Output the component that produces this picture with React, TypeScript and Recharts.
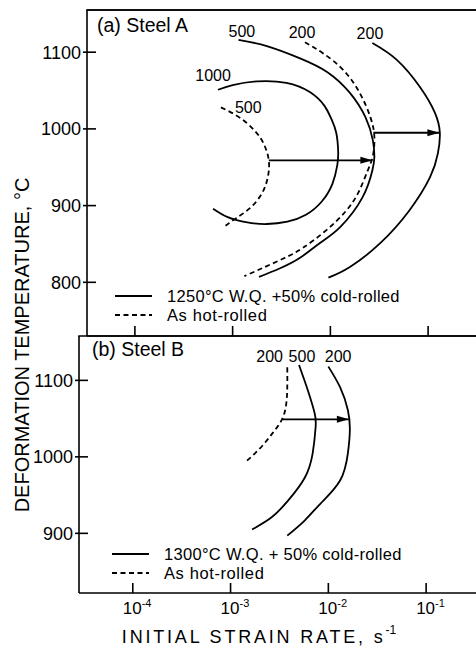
import React from 'react';
import { ComposedChart, Line, XAxis, YAxis, Scatter } from 'recharts';

// ---------- axis ticks ----------
const xTicks = [-4, -3, -2, -1];
const xTickExp = ['-4', '-3', '-2', '-1'];
const yTicksA = [800, 900, 1000, 1100];
const yTicksB = [900, 1000, 1100];

// ---------- Steel A (log10 strain rate, temperature °C) ----------
const aSolid1000: [number, number][] = [
  [-3.20, 896], [-3.05, 885], [-2.85, 878], [-2.65, 876], [-2.44, 879], [-2.25, 888],
  [-2.09, 905], [-1.98, 928], [-1.93, 952], [-1.92, 970], [-1.94, 995], [-1.99, 1013],
  [-2.06, 1030], [-2.21, 1048], [-2.45, 1060], [-2.75, 1062], [-3.00, 1057], [-3.15, 1051],
];
const aDashed500: [number, number][] = [
  [-3.12, 1028], [-2.93, 1015], [-2.77, 997], [-2.68, 980], [-2.63, 959], [-2.64, 937],
  [-2.70, 916], [-2.82, 897], [-2.96, 884], [-3.08, 873],
];
const aSolid500: [number, number][] = [
  [-2.94, 1116], [-2.65, 1108], [-2.31, 1092], [-2.03, 1074], [-1.80, 1047], [-1.64, 1015],
  [-1.565, 985], [-1.55, 963], [-1.57, 946], [-1.67, 911], [-1.90, 872], [-2.11, 851],
  [-2.31, 832], [-2.52, 818], [-2.73, 807],
];
const aDashed200: [number, number][] = [
  [-2.26, 1113], [-2.08, 1099], [-1.87, 1077], [-1.70, 1047], [-1.59, 1015], [-1.55, 990],
  [-1.565, 965], [-1.62, 945], [-1.71, 918], [-1.84, 893], [-2.05, 867], [-2.28, 845],
  [-2.48, 831], [-2.88, 808],
];
const aSolid200: [number, number][] = [
  [-1.57, 1112], [-1.32, 1090], [-1.08, 1054], [-0.93, 1021], [-0.88, 995], [-0.90, 968],
  [-0.98, 937], [-1.19, 894], [-1.49, 851], [-1.80, 820], [-2.02, 806],
];
const aArrow1: [number, number][] = [[-2.63, 959], [-1.57, 959]];
const aArrow2: [number, number][] = [[-1.56, 995], [-0.885, 995]];
const aCurveLabels: [number, number, string][] = [
  [-2.905, 1127, '500'], [-2.29, 1126, '200'], [-1.595, 1125, '200'],
  [-3.20, 1069, '1000'], [-2.84, 1028, '500'],
];
const aDomainX: [number, number] = [-4.49, -0.51];
const aDomainT: [number, number] = [730, 1155];

// ---------- Steel B ----------
const bDashed200: [number, number][] = [
  [-2.42, 1117], [-2.42, 1091], [-2.43, 1070], [-2.47, 1050], [-2.57, 1031], [-2.70, 1011], [-2.85, 993],
];
const bSolid500: [number, number][] = [
  [-2.30, 1120], [-2.21, 1087], [-2.14, 1057], [-2.13, 1039], [-2.16, 1005], [-2.24, 973],
  [-2.41, 943], [-2.58, 921], [-2.78, 905],
];
const bSolid200: [number, number][] = [
  [-2.00, 1118], [-1.88, 1091], [-1.80, 1061], [-1.78, 1035], [-1.80, 1005], [-1.88, 969],
  [-2.08, 939], [-2.24, 917], [-2.42, 897],
];
const bArrow: [number, number][] = [[-2.47, 1049], [-1.79, 1049]];
const bCurveLabels: [number, number, string][] = [
  [-2.60, 1131, '200'], [-2.27, 1131, '500'], [-1.90, 1131, '200'],
];
const bDomainX: [number, number] = [-4.55, -0.49];
const bDomainT: [number, number] = [822, 1158];

// ---------- texts ----------
const titleA = '(a) Steel A';
const titleB = '(b) Steel B';
const legendA = ['1250°C W.Q. +50% cold-rolled', 'As hot-rolled'];
const legendB = ['1300°C W.Q. + 50% cold-rolled', 'As hot-rolled'];
const yTitle = 'DEFORMATION TEMPERATURE, °C';
const xTitle = 'INITIAL STRAIN RATE, s';

// ---------- layout ----------
const W = 476;
const A_LEFT = 87;
const A_TOP = 10;
const A_BOTTOM = 336;
const B_LEFT = 79;

const FONT = '"Liberation Sans", Arial, Helvetica, sans-serif';
const toPts = (a: [number, number][]) => a.map(([x, t]) => ({ x, t }));
const toLabels = (a: [number, number, string][]) => a.map(([x, t, s]) => ({ x, t, s }));
const scaleA = (v: number) => A_LEFT + ((v - aDomainX[0]) / (aDomainX[1] - aDomainX[0])) * (W - A_LEFT);

const YTick = (props: any) => {
  const { x, y, payload } = props;
  return (
    <g>
      <line x1={x - 4} x2={x + 9} y1={y} y2={y} stroke="#000" strokeWidth={1.6} />
      <text x={x - 6} y={y} dy={6.5} textAnchor="end" fontSize={18} fontFamily={FONT} fill="#000">
        {payload.value}
      </text>
    </g>
  );
};

const XLabelTick = (props: any) => {
  const { x, y, payload, index } = props;
  const exp = xTickExp[index] ?? String(payload.value);
  return (
    <g>
      <line x1={x} x2={x} y1={y} y2={y - 10} stroke="#000" strokeWidth={1.6} />
      <text x={x - 10} y={y + 21} fontSize={17} fontFamily={FONT} fill="#000">
        10
        <tspan fontSize={11} dy={-7}>{exp}</tspan>
      </text>
    </g>
  );
};

const arrowDot = (props: any) => {
  const { cx, cy, index } = props;
  if (index !== 1) return <g key={`a${index}`} />;
  return (
    <path
      key={`a${index}`}
      d={`M${cx},${cy} L${cx - 12},${cy - 3.5} L${cx - 12},${cy + 3.5} Z`}
      fill="#000"
    />
  );
};

const LabelShape = (p: any) => (
  <text
    x={p.cx}
    y={p.cy}
    textAnchor="middle"
    dominantBaseline="central"
    fontSize={16}
    fontFamily={FONT}
    fill="#000"
  >
    {p.payload?.s}
  </text>
);

const curve = (key: string, pts: [number, number][], dashed: boolean) => (
  <Line
    key={key}
    data={toPts(pts)}
    dataKey="t"
    type="natural"
    stroke="#000"
    strokeWidth={1.8}
    strokeDasharray={dashed ? '5 3.5' : undefined}
    dot={false}
    activeDot={false}
    isAnimationActive={false}
    legendType="none"
  />
);

const arrow = (key: string, pts: [number, number][]) => (
  <Line
    key={key}
    data={toPts(pts)}
    dataKey="t"
    type="linear"
    stroke="#000"
    strokeWidth={1.8}
    dot={arrowDot}
    activeDot={false}
    isAnimationActive={false}
    legendType="none"
  />
);

const LegendBlock = ({ x, y, lines }: { x: number; y: number; lines: string[] }) => (
  <g>
    <line x1={x} x2={x + 37} y1={y} y2={y} stroke="#000" strokeWidth={1.8} />
    <text x={x + 52} y={y} dominantBaseline="central" fontSize={16.5} fontFamily={FONT} fill="#000" letterSpacing={0.3}>
      {lines[0]}
    </text>
    <line x1={x} x2={x + 37} y1={y + 19} y2={y + 19} stroke="#000" strokeWidth={1.8} strokeDasharray="5 3.5" />
    <text x={x + 52} y={y + 19} dominantBaseline="central" fontSize={16.5} fontFamily={FONT} fill="#000" letterSpacing={0.6}>
      {lines[1]}
    </text>
  </g>
);

export default function App() {
  return (
    <div style={{ position: 'absolute', left: 0, top: 0, width: W, height: 651, background: '#fff' }}>
      <div style={{ position: 'absolute', left: 0, top: 0 }}>
        <ComposedChart width={W} height={356} margin={{ top: 0, right: 0, bottom: 0, left: 0 }}>
          <XAxis
            dataKey="x"
            type="number"
            domain={aDomainX}
            ticks={xTicks}
            interval={0}
            allowDataOverflow
            height={20}
            tick={false}
            tickLine={false}
            axisLine={{ stroke: '#000', strokeWidth: 1.6 }}
          />
          <XAxis
            xAxisId="top"
            orientation="top"
            dataKey="x"
            type="number"
            domain={aDomainX}
            allowDataOverflow
            height={A_TOP}
            tick={false}
            tickLine={false}
            axisLine={{ stroke: '#000', strokeWidth: 1.6 }}
          />
          <YAxis
            type="number"
            domain={aDomainT}
            ticks={yTicksA}
            interval={0}
            allowDataOverflow
            width={A_LEFT}
            tickSize={0}
            tickMargin={0}
            tickLine={false}
            tick={(p: any) => <YTick {...p} />}
            axisLine={{ stroke: '#000', strokeWidth: 1.6 }}
          />
          {curve('a1', aSolid1000, false)}
          {curve('a2', aDashed500, true)}
          {curve('a3', aSolid500, false)}
          {curve('a4', aDashed200, true)}
          {curve('a5', aSolid200, false)}
          {arrow('ar1', aArrow1)}
          {arrow('ar2', aArrow2)}
          <Scatter data={toLabels(aCurveLabels)} dataKey="t" shape={LabelShape} isAnimationActive={false} legendType="none" />
        </ComposedChart>
      </div>
      <div style={{ position: 'absolute', left: 0, top: 330 }}>
        <ComposedChart width={W} height={321} margin={{ top: 6, right: 0, bottom: 0, left: 0 }}>
          <XAxis
            dataKey="x"
            type="number"
            domain={bDomainX}
            ticks={xTicks}
            interval={0}
            allowDataOverflow
            height={58}
            tickSize={0}
            tickMargin={0}
            tickLine={false}
            tick={(p: any) => <XLabelTick {...p} />}
            axisLine={{ stroke: '#000', strokeWidth: 1.6 }}
          />
          <YAxis
            type="number"
            domain={bDomainT}
            ticks={yTicksB}
            interval={0}
            allowDataOverflow
            width={B_LEFT}
            tickSize={0}
            tickMargin={0}
            tickLine={false}
            tick={(p: any) => <YTick {...p} />}
            axisLine={{ stroke: '#000', strokeWidth: 1.6 }}
          />
          {curve('b1', bDashed200, true)}
          {curve('b2', bSolid500, false)}
          {curve('b3', bSolid200, false)}
          {arrow('br', bArrow)}
          <Scatter data={toLabels(bCurveLabels)} dataKey="t" shape={LabelShape} isAnimationActive={false} legendType="none" />
        </ComposedChart>
      </div>
      <svg width={W} height={651} style={{ position: 'absolute', left: 0, top: 0, pointerEvents: 'none' }}>
        {/* frame of panel (a): top border, divider and inward x ticks */}
        <line x1={A_LEFT - 0.8} x2={W} y1={A_TOP} y2={A_TOP} stroke="#000" strokeWidth={1.6} />
        <line x1={B_LEFT - 0.8} x2={W} y1={A_BOTTOM} y2={A_BOTTOM} stroke="#000" strokeWidth={1.6} />
        {xTicks.map((v) => (
          <line key={`it${v}`} x1={scaleA(v)} x2={scaleA(v)} y1={A_BOTTOM} y2={A_BOTTOM - 10} stroke="#000" strokeWidth={1.6} />
        ))}
        <text x={97} y={25} dominantBaseline="central" fontSize={19.5} fontFamily={FONT} fill="#000">{titleA}</text>
        <text x={92} y={349} dominantBaseline="central" fontSize={19.5} fontFamily={FONT} fill="#000">{titleB}</text>
        <LegendBlock x={115} y={296} lines={legendA} />
        <LegendBlock x={112} y={554} lines={legendB} />
        <text
          transform="translate(22,345) rotate(-90)"
          textAnchor="middle"
          dominantBaseline="central"
          fontSize={20}
          fontFamily={FONT}
          fill="#000"
        >
          {yTitle}
        </text>
        <text x={259} y={637} textAnchor="middle" dominantBaseline="central" fontSize={18} fontFamily={FONT} fill="#000" letterSpacing={2.8}>
          {xTitle}
          <tspan fontSize={12} dy={-7} letterSpacing={0}>-1</tspan>
        </text>
      </svg>
    </div>
  );
}
